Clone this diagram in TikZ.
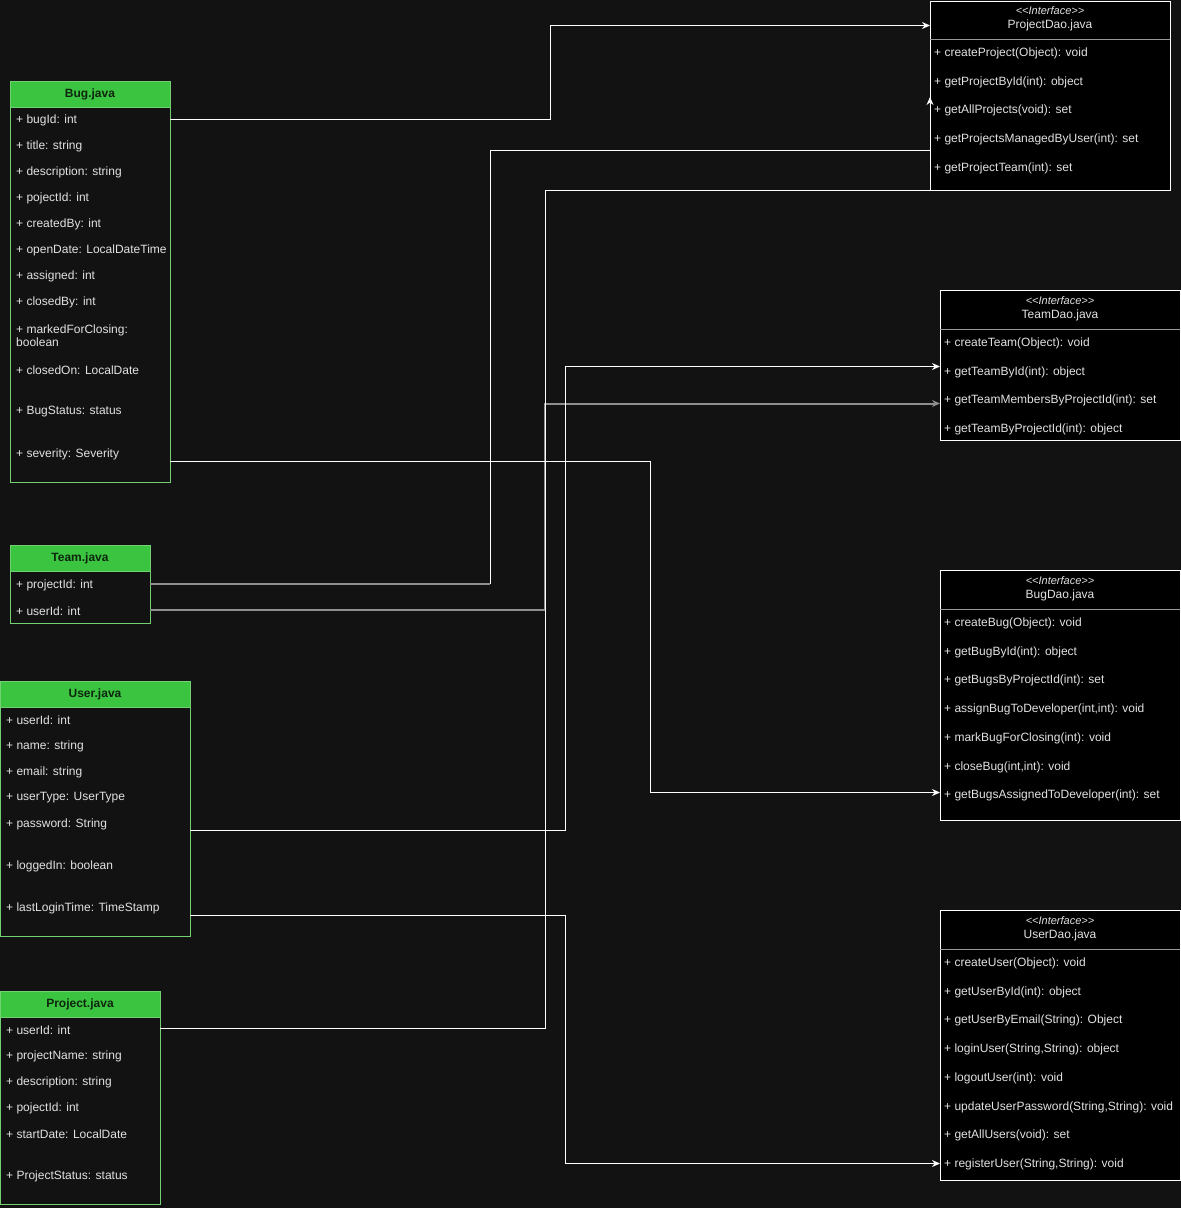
\documentclass[tikz,border=0pt]{standalone}
\usepackage{fontspec}
\setmainfont{Liberation Sans}
\usepackage{tikz}
\usetikzlibrary{arrows.meta}

\definecolor{canvas}{HTML}{121212}
\definecolor{leaf}{HTML}{3AC43F}
\definecolor{leafline}{HTML}{72CF72}
\definecolor{ink}{HTML}{E2E2E2}
\definecolor{headink}{HTML}{0E260E}
\definecolor{dimgrey}{HTML}{8E8E8E}

\tikzset{
    cls/.style={draw=leafline, fill=canvas, line width=1pt, anchor=north west, inner sep=0, outer sep=0},
    clshead/.style={draw=leafline, fill=leaf, line width=1pt, anchor=north, minimum height=26pt,
        inner sep=0, outer sep=0, text=headink, font=\fontsize{12}{14}\selectfont\bfseries},
    dao/.style={draw=white, fill=black, line width=1pt, anchor=north west, inner sep=0, outer sep=0},
    stereo/.style={text=ink, inner sep=0, font=\fontsize{11}{12}\selectfont\itshape},
    daoname/.style={text=ink, inner sep=0, font=\fontsize{12}{14}\selectfont},
    sep/.style={draw=gray!80, line width=1pt},
    attr/.style={anchor=west, inner sep=0, text=ink, font=\fontsize{12}{13.5}\selectfont},
    wire/.style={draw=white, line width=1pt},
    dimwire/.style={draw=dimgrey, line width=2pt},
    tip/.style={-{Stealth[length=8pt,width=7pt]}}
}
\newcommand{\stereotype}{{<}{<}Interface{>}{>}}

\begin{document}
\begin{tikzpicture}[x=1pt,y=-1pt]
    \fill[canvas] (0,0) rectangle (1181,1208);
    \useasboundingbox (0,0) rectangle (1181,1208);

    % entity classes
    \node[cls, minimum width=160pt, minimum height=401pt] (bug) at (10,81) {};
    \node[clshead, minimum width=160pt] (bug-head) at (bug.north) {Bug.java};
    \node[attr] (bug-bugId) at (16,120) {+ bugId: int};
    \node[attr] (bug-title) at (16,146) {+ title: string};
    \node[attr] (bug-description) at (16,172) {+ description: string};
    \node[attr] (bug-pojectId) at (16,198) {+ pojectId: int};
    \node[attr] (bug-createdBy) at (16,224) {+ createdBy: int};
    \node[attr] (bug-openDate) at (16,250) {+ openDate: LocalDateTime};
    \node[attr] (bug-assigned) at (16,276) {+ assigned: int};
    \node[attr] (bug-closedBy) at (16,302) {+ closedBy: int};
    \node[attr, align=left] (bug-marked) at (16,335.5) {+ markedForClosing:\\boolean};
    \node[attr] (bug-closedOn) at (16,370) {+ closedOn: LocalDate};
    \node[attr] (bug-status) at (16,412) {+ BugStatus: status};
    \node[attr] (bug-severity) at (16,454) {+ severity: Severity};

    \node[cls, minimum width=140pt, minimum height=78pt] (team) at (10,545) {};
    \node[clshead, minimum width=140pt] (team-head) at (team.north) {Team.java};
    \node[attr] (team-projectId) at (16,585) {+ projectId: int};
    \node[attr] (team-userId) at (16,611) {+ userId: int};

    \node[cls, minimum width=190pt, minimum height=255pt] (user) at (0,681) {};
    \node[clshead, minimum width=190pt] (user-head) at (user.north) {User.java};
    \node[attr] (user-userId) at (6,720) {+ userId: int};
    \node[attr] (user-name) at (6,746) {+ name: string};
    \node[attr] (user-email) at (6,772) {+ email: string};
    \node[attr] (user-userType) at (6,798) {+ userType: UserType};
    \node[attr] (user-password) at (6,824) {+ password: String};
    \node[attr] (user-loggedIn) at (6,866) {+ loggedIn: boolean};
    \node[attr] (user-lastLogin) at (6,908) {+ lastLoginTime: TimeStamp};

    \node[cls, minimum width=160pt, minimum height=213pt] (project) at (0,991) {};
    \node[clshead, minimum width=160pt] (project-head) at (project.north) {Project.java};
    \node[attr] (project-userId) at (6,1030) {+ userId: int};
    \node[attr] (project-name) at (6,1056) {+ projectName: string};
    \node[attr] (project-description) at (6,1082) {+ description: string};
    \node[attr] (project-pojectId) at (6,1108) {+ pojectId: int};
    \node[attr] (project-startDate) at (6,1134) {+ startDate: LocalDate};
    \node[attr] (project-status) at (6,1176) {+ ProjectStatus: status};

    % dao interfaces
    \node[dao, minimum width=240pt, minimum height=189pt] (pdao) at (930,1) {};
    \node[stereo] (pdao-stereo) at (1050,10.5) {\stereotype};
    \node[daoname] (pdao-name) at (1050,25) {ProjectDao.java};
    \draw[sep] ([yshift=-38pt]pdao.north west) -- ([yshift=-38pt]pdao.north east);
    \node[attr] (pdao-create) at (934,53) {+ createProject(Object): void};
    \node[attr] (pdao-byId) at (934,82) {+ getProjectById(int): object};
    \node[attr] (pdao-all) at (934,110) {+ getAllProjects(void): set};
    \node[attr] (pdao-managed) at (934,139) {+ getProjectsManagedByUser(int): set};
    \node[attr] (pdao-team) at (934,168) {+ getProjectTeam(int): set};

    \node[dao, minimum width=240pt, minimum height=150pt] (tdao) at (940,290) {};
    \node[stereo] (tdao-stereo) at (1060,300.5) {\stereotype};
    \node[daoname] (tdao-name) at (1060,315) {TeamDao.java};
    \draw[sep] ([yshift=-39pt]tdao.north west) -- ([yshift=-39pt]tdao.north east);
    \node[attr] (tdao-create) at (944,343) {+ createTeam(Object): void};
    \node[attr] (tdao-byId) at (944,372) {+ getTeamById(int): object};
    \node[attr] (tdao-members) at (944,400) {+ getTeamMembersByProjectId(int): set};
    \node[attr] (tdao-byProject) at (944,429) {+ getTeamByProjectId(int): object};

    \node[dao, minimum width=240pt, minimum height=250pt] (bdao) at (940,570) {};
    \node[stereo] (bdao-stereo) at (1060,580.5) {\stereotype};
    \node[daoname] (bdao-name) at (1060,595) {BugDao.java};
    \draw[sep] ([yshift=-39pt]bdao.north west) -- ([yshift=-39pt]bdao.north east);
    \node[attr] (bdao-create) at (944,623) {+ createBug(Object): void};
    \node[attr] (bdao-byId) at (944,652) {+ getBugById(int): object};
    \node[attr] (bdao-byProject) at (944,680) {+ getBugsByProjectId(int): set};
    \node[attr] (bdao-assign) at (944,709) {+ assignBugToDeveloper(int,int): void};
    \node[attr] (bdao-mark) at (944,738) {+ markBugForClosing(int): void};
    \node[attr] (bdao-close) at (944,767) {+ closeBug(int,int): void};
    \node[attr] (bdao-assigned) at (944,795) {+ getBugsAssignedToDeveloper(int): set};

    \node[dao, minimum width=240pt, minimum height=270pt] (udao) at (940,910) {};
    \node[stereo] (udao-stereo) at (1060,920.5) {\stereotype};
    \node[daoname] (udao-name) at (1060,935) {UserDao.java};
    \draw[sep] ([yshift=-39pt]udao.north west) -- ([yshift=-39pt]udao.north east);
    \node[attr] (udao-create) at (944,963) {+ createUser(Object): void};
    \node[attr] (udao-byId) at (944,992) {+ getUserById(int): object};
    \node[attr] (udao-byEmail) at (944,1020) {+ getUserByEmail(String): Object};
    \node[attr] (udao-login) at (944,1049) {+ loginUser(String,String): object};
    \node[attr] (udao-logout) at (944,1078) {+ logoutUser(int): void};
    \node[attr] (udao-password) at (944,1107) {+ updateUserPassword(String,String): void};
    \node[attr] (udao-all) at (944,1135) {+ getAllUsers(void): set};
    \node[attr] (udao-register) at (944,1164) {+ registerUser(String,String): void};

    % connectors
    \coordinate (teamBend) at (490,583.5);
    \draw[dimwire] (team.east |- teamBend) -- (teamBend);
    \draw[wire, tip] (teamBend) |- (pdao.west |- 0,150.5) -- (pdao.west |- 0,97);
    \draw[dimwire, tip] (team.east |- 0,609.5) -| (545,403.5) -- (tdao.west |- 0,403.5);
    \draw[wire, tip] (bug.east |- 0,119.5) -| (550,25.5) -- (pdao.west |- 0,25.5);
    \draw[wire] (project.east |- 0,1028.5) -| (545,190) -- (pdao.south west);
    \draw[wire, tip] (user.east |- 0,830.5) -| (565,366.5) -- (tdao.west |- 0,366.5);
    \draw[wire, tip] (bug.east |- 0,461.5) -| (650,792.5) -- (bdao.west |- 0,792.5);
    \draw[wire, tip] (user.east |- 0,915.5) -| (565,1163.5) -- (udao.west |- 0,1163.5);
\end{tikzpicture}
\end{document}
